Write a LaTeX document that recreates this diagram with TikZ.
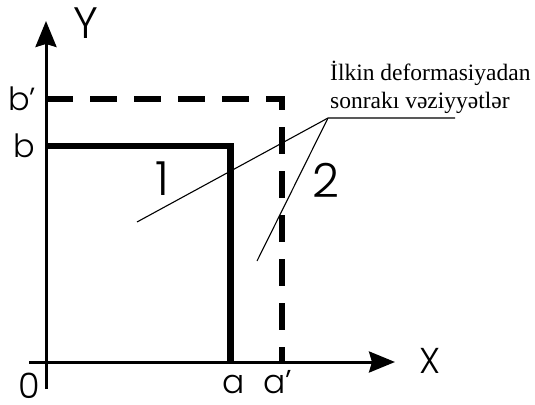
\documentclass[tikz,border=0pt]{standalone}
\usepackage{fontspec}
\setmainfont{Liberation Serif}
\newfontfamily\labfont{Poppins}[UprightFont=* Light]
\usetikzlibrary{arrows.meta}
\tikzset{
  axis/.style={line width=3pt, -{Stealth[length=26pt,width=21pt,inset=3pt]}},
  solidbox/.style={line width=6.5pt, line join=miter},
  dashbox/.style={line width=5.5pt, line join=miter, dash pattern=on 27pt off 17pt},
  leader/.style={line width=1.1pt},
  lab/.style={inner sep=0pt, anchor=base, font=\labfont},
  note/.style={inner sep=0pt, anchor=base west, font=\fontsize{23.5}{28}\selectfont},
}
\begin{document}
\begin{tikzpicture}[x=1pt,y=-1pt]
\useasboundingbox (0,0) rectangle (535,404);
% key points
\coordinate (Ybot) at (46,389);
\coordinate (Ytop) at (46,21);
\coordinate (Xleft) at (29,362);
\coordinate (Xright) at (395,362);
\coordinate (B) at (46,146);
\coordinate (C) at (230.5,146);
\coordinate (A) at (230.5,362);
\coordinate (Bp) at (46,99);
\coordinate (Cp) at (282,99);
\coordinate (Ap) at (282,362);
% shapes
\draw[solidbox] (B) -- (C) -- (A);
\draw[dashbox] (Bp) -- (Cp) -- (Ap);
\draw[axis] (Ybot) -- (Ytop);
\draw[axis] (Xleft) -- (Xright);
% labels
\node[lab, font=\labfont\fontsize{44}{44}\selectfont] (ylab) at (86,38) {Y};
\node[lab, font=\labfont\fontsize{36}{36}\selectfont] (xlab) at (430,373) {X};
\node[lab, anchor=base west, font=\labfont\fontsize{32}{32}\selectfont] (bplab) at (8,110) {b’};
\node[lab, anchor=base west, font=\labfont\fontsize{32}{32}\selectfont] (blab) at (13,157) {b};
\node[lab, font=\labfont\fontsize{35}{35}\selectfont] (olab) at (29,398) {0};
\node[lab, font=\labfont\fontsize{33}{33}\selectfont] (alab) at (233.5,393) {a};
\node[lab, anchor=base west, font=\labfont\fontsize{33}{33}\selectfont] (aplab) at (263,393) {a’};
\node[lab, font=\labfont\fontsize{47}{47}\selectfont] (one) at (162,195) {1};
\node[lab, font=\labfont\fontsize{47}{47}\selectfont] (two) at (326,197) {2};
\node[note] (note1) at (330,81) {İlkin deformasiyadan};
\node[note] (note2) at (330,108) {sonrakı vəziyyətlər};
% leader lines
\coordinate (J) at (328,118);
\coordinate (Hend) at (455,118);
\coordinate (L1) at (137,222);
\coordinate (L2) at (257,261);
\draw[leader] (Hend) -- (J) -- (L1);
\draw[leader] (J) -- (L2);
\end{tikzpicture}
\end{document}
